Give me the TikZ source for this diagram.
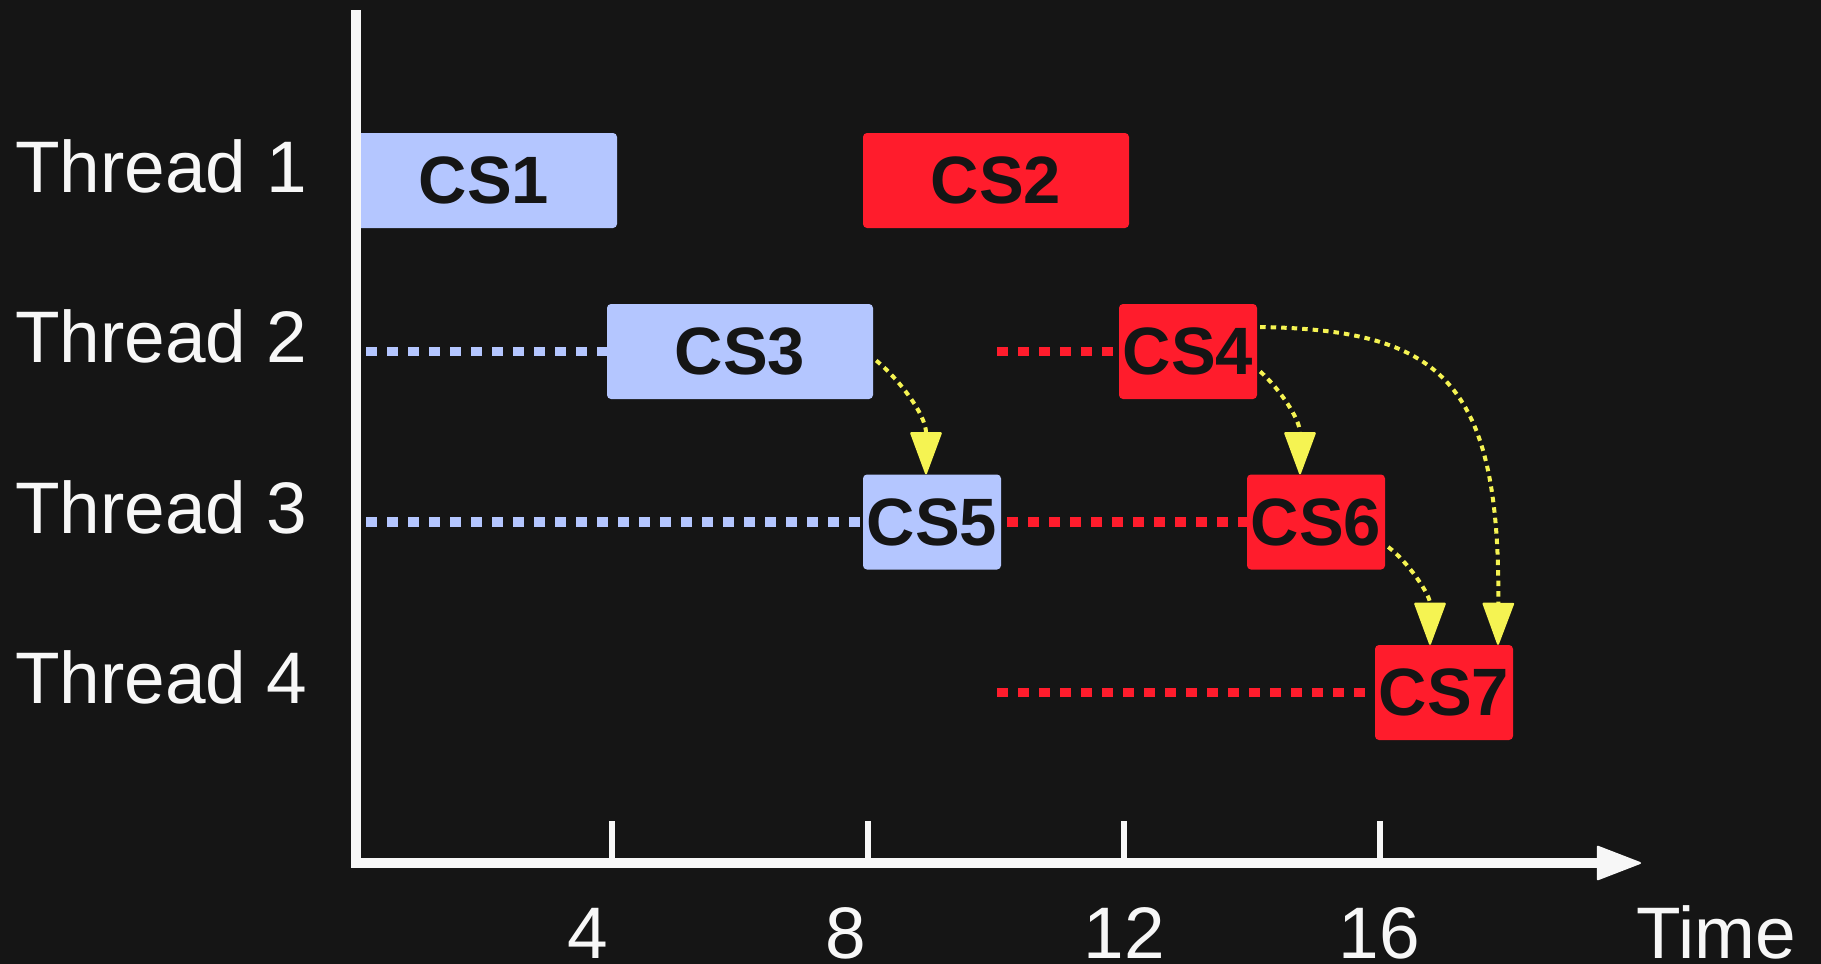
\documentclass[tikz,border=0pt]{standalone}
\usepackage{fontspec}
\setmainfont{Liberation Sans}
\usetikzlibrary{arrows.meta}
\pgfdeclarelayer{bottom}
\pgfdeclarelayer{lines}
\pgfsetlayers{bottom,lines,main}
\definecolor{bg}{HTML}{151515}
\definecolor{csblue}{HTML}{B4C6FF}
\definecolor{csred}{HTML}{FF1C2C}
\definecolor{ayellow}{HTML}{F5F352}
\definecolor{axwhite}{HTML}{F7F7F7}
\begin{document}
\begin{tikzpicture}[x=1pt,y=-1pt,
  csbox/.style={rounded corners=4pt, minimum height=95pt, inner sep=0pt, text=bg,
    font=\fontsize{67}{68}\selectfont\bfseries},
  longbox/.style={csbox, minimum width=266pt},
  shortbox/.style={csbox, minimum width=138pt},
  bluebox/.style={fill=csblue},
  redbox/.style={fill=csred},
  lbl/.style={text=axwhite, inner sep=0pt, text depth=0pt, font=\fontsize{73}{78}\selectfont},
  waitline/.style={line width=9.5pt, dash pattern=on 10.5pt off 10.5pt},
  bluewait/.style={waitline, draw=csblue},
  redwait/.style={waitline, draw=csred},
  handoff/.style={draw=ayellow, line width=4pt, dash pattern=on 5.5pt off 5pt,
    -{Triangle[length=44pt, width=32pt, round, line width=2pt]}},
  axisline/.style={draw=axwhite, line width=10pt, line join=miter,
    -{Triangle[length=46pt, width=35pt, round, line width=2pt]}},
  tickline/.style={draw=axwhite, line width=6pt}
]
\useasboundingbox (0,0) rectangle (1821,964);
\begin{pgfonlayer}{bottom}
\fill[bg] (0,0) rectangle (1821,964);
\end{pgfonlayer}

% thread labels
\node[lbl, anchor=base west] (t1) at (15,192) {Thread 1};
\node[lbl, anchor=base west] (t2) at (15,362) {Thread 2};
\node[lbl, anchor=base west] (t3) at (15,533) {Thread 3};
\node[lbl, anchor=base west] (t4) at (15,703) {Thread 4};

% free ends of waiting lines
\coordinate (b2s) at (366,351.5);
\coordinate (b3s) at (366,522);
\coordinate (r2s) at (997,351.5);
\coordinate (r4s) at (997,692.5);

% boxes
\node[longbox, bluebox] (cs1) at (484,180.5) {CS1};
\node[longbox, redbox] (cs2) at (996,180.5) {CS2};
\node[longbox, bluebox] (cs3) at (740,351.5) {CS3};
\node[shortbox, redbox] (cs4) at (1188,351.5) {CS4};
\node[shortbox, bluebox] (cs5) at (932,522) {CS5};
\node[shortbox, redbox] (cs6) at (1316,522) {CS6};
\node[shortbox, redbox] (cs7) at (1444,692.5) {CS7};

% waiting lines (behind boxes)
\begin{pgfonlayer}{lines}
\draw[bluewait] (b2s) -- (cs3.west);
\draw[bluewait] (b3s) -- (cs5.west);
\draw[redwait] (r2s) -- (cs4.west);
\draw[redwait] ([xshift=6pt]cs5.east) -- (cs6.west);
\draw[redwait] (r4s) -- (cs7.west);
\end{pgfonlayer}

% hand-off arrows
\draw[handoff] ([shift={(3,9)}]cs3.east) .. controls +(22,18) and +(0,-60) .. ([xshift=-6pt]cs5.north);
\draw[handoff] ([shift={(3,20)}]cs4.east) .. controls +(20,18) and +(0,-55) .. ([xshift=-16pt]cs6.north);
\draw[handoff] ([shift={(3,-24.5)}]cs4.east) .. controls (1440,330) and (1500,380) .. ([xshift=54pt]cs7.north);
\draw[handoff] ([shift={(3,25)}]cs6.east) .. controls +(20,15) and +(0,-50) .. ([xshift=-14pt]cs7.north);

% axes
\coordinate (ytop) at (356,10);
\coordinate (orig) at (356,863);
\coordinate (xend) at (1641,863);
\draw[axisline] (ytop) -- (orig) -- (xend);

\coordinate (k4) at (612,863);
\coordinate (k8) at (868,863);
\coordinate (k12) at (1124,863);
\coordinate (k16) at (1380,863);
\foreach \k in {k4,k8,k12,k16}{
  \draw[tickline] (\k) -- ([yshift=42pt]\k);
}

\node[lbl, anchor=base] (l4) at (588,958) {4};
\node[lbl, anchor=base] (l8) at (846,958) {8};
\node[lbl, anchor=base] (l12) at (1124,958) {12};
\node[lbl, anchor=base] (l16) at (1379,958) {16};
\node[lbl, anchor=base west] (ltime) at (1636,958) {Time};
\end{tikzpicture}
\end{document}
